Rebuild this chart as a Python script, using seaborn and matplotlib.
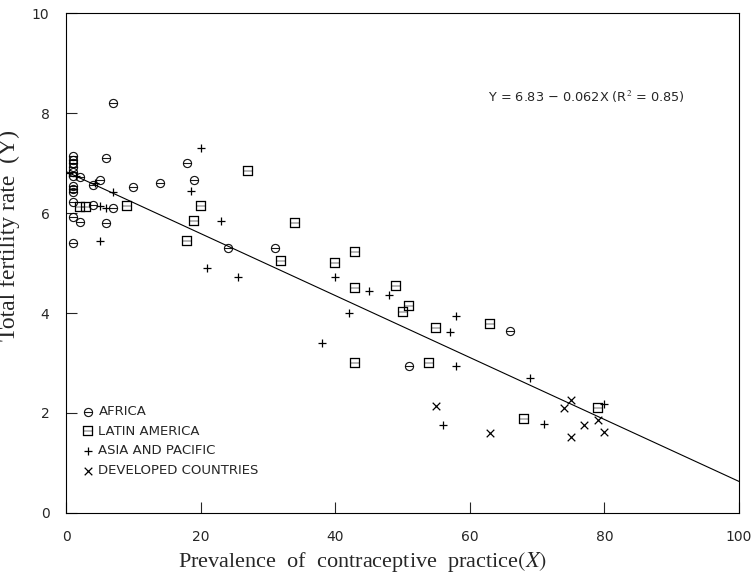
import numpy as np
import pandas as pd
import matplotlib
matplotlib.use('Agg')
import matplotlib.pyplot as plt
import seaborn as sns

# ---- data ----
africa_x = [1, 1, 1, 1, 1, 1, 2, 1, 1, 1, 1, 1, 2, 1, 7, 6, 18, 19, 14, 10, 5, 4, 4, 7, 6, 24, 31, 51, 66]
africa_y = [7.15, 7.07, 7.0, 6.93, 6.83, 6.75, 6.73, 6.55, 6.48, 6.42, 6.23, 5.93, 5.83, 5.4,
            8.2, 7.1, 7.0, 6.67, 6.6, 6.52, 6.66, 6.56, 6.16, 6.11, 5.8, 5.3, 5.3, 2.93, 3.65]

latin_x = [2, 3, 9, 20, 19, 18, 27, 34, 32, 40, 43, 43, 49, 50, 51, 55, 63, 43, 54, 68, 79]
latin_y = [6.12, 6.12, 6.14, 6.15, 5.85, 5.45, 6.85, 5.8, 5.05, 5.0, 5.22, 4.5, 4.55, 4.03, 4.15,
           3.7, 3.78, 3.0, 3.0, 1.88, 2.1]

asia_x = [0.5, 1.5, 4.3, 7, 5, 6, 5, 20, 18.5, 23, 21, 25.5, 40, 42, 45, 48, 38, 58, 57, 58, 69, 56, 71, 80]
asia_y = [6.8, 6.75, 6.6, 6.43, 6.15, 6.11, 5.45, 7.3, 6.45, 5.85, 4.9, 4.72, 4.72, 4.0, 4.44, 4.37,
          3.4, 3.95, 3.63, 2.93, 2.7, 1.76, 1.78, 2.18]

dev_x = [55, 63, 74, 75, 77, 75, 79, 80]
dev_y = [2.13, 1.6, 2.1, 2.26, 1.76, 1.51, 1.86, 1.61]

intercept = 6.83
slope = -0.062
line_x = [0, 100]

x_ticks = [0, 20, 40, 60, 80, 100]
y_ticks = [0, 2, 4, 6, 8, 10]

# name, x, y, marker, size, edge width
groups = [
    ('AFRICA', africa_x, africa_y, '$\u2296$', 42, 0.2),
    ('LATIN AMERICA', latin_x, latin_y, '$\u229f$', 42, 0.2),
    ('ASIA AND PACIFIC', asia_x, asia_y, '+', 36, 0.9),
    ('DEVELOPED COUNTRIES', dev_x, dev_y, 'x', 30, 0.9),
]

####################     figure     ####################
sns.set_style('ticks')
plt.rcParams['font.family'] = ['DejaVu Sans']
plt.rcParams['mathtext.fontset'] = 'stix'

fig = plt.figure(figsize=(7.51, 5.75), dpi=100)
ax = fig.add_axes([0.088, 0.108, 0.896, 0.869])

# regression line
df_line = pd.DataFrame({'x': line_x, 'y': [intercept + slope * v for v in line_x]})
sns.lineplot(data=df_line, x='x', y='y', color='black', linewidth=0.8, ax=ax)

# points
for name, xs, ys, mk, sz, lw in groups:
    d = pd.DataFrame({'x': xs, 'y': ys})
    sns.scatterplot(data=d, x='x', y='y', marker=mk, s=sz, color='black',
                    edgecolor='black', linewidth=lw, label=name, ax=ax)

ax.set_xlim(0, 100)
ax.set_ylim(0, 10)
ax.set_xticks(x_ticks)
ax.set_yticks(y_ticks)
ax.tick_params(direction='in', length=8, width=0.8, labelsize=10, pad=12)
for sp in ax.spines.values():
    sp.set_linewidth(0.8)
    sp.set_color('black')

ax.set_xlabel('Prevalence  of  contraceptive  practice$(X)$', fontsize=16,
              family='Liberation Serif')
ax.xaxis.set_label_coords(0.44, -0.074)
ax.set_ylabel('Total fertility rate  (Y)', fontsize=17, family='Liberation Serif')
ax.yaxis.set_label_coords(-0.068, 0.556)

ax.text(0.627, 0.832, 'Y = 6.83 \u2212 0.062X (R$^{2}$ = 0.85)', transform=ax.transAxes,
        fontsize=9.3, ha='left', va='center')

ax.legend(loc='lower left', bbox_to_anchor=(0.003, 0.048), frameon=False, fontsize=9.5,
          handletextpad=0.2, labelspacing=0.5, handlelength=1.2)

plt.savefig('out.png', dpi=100)
plt.close()
